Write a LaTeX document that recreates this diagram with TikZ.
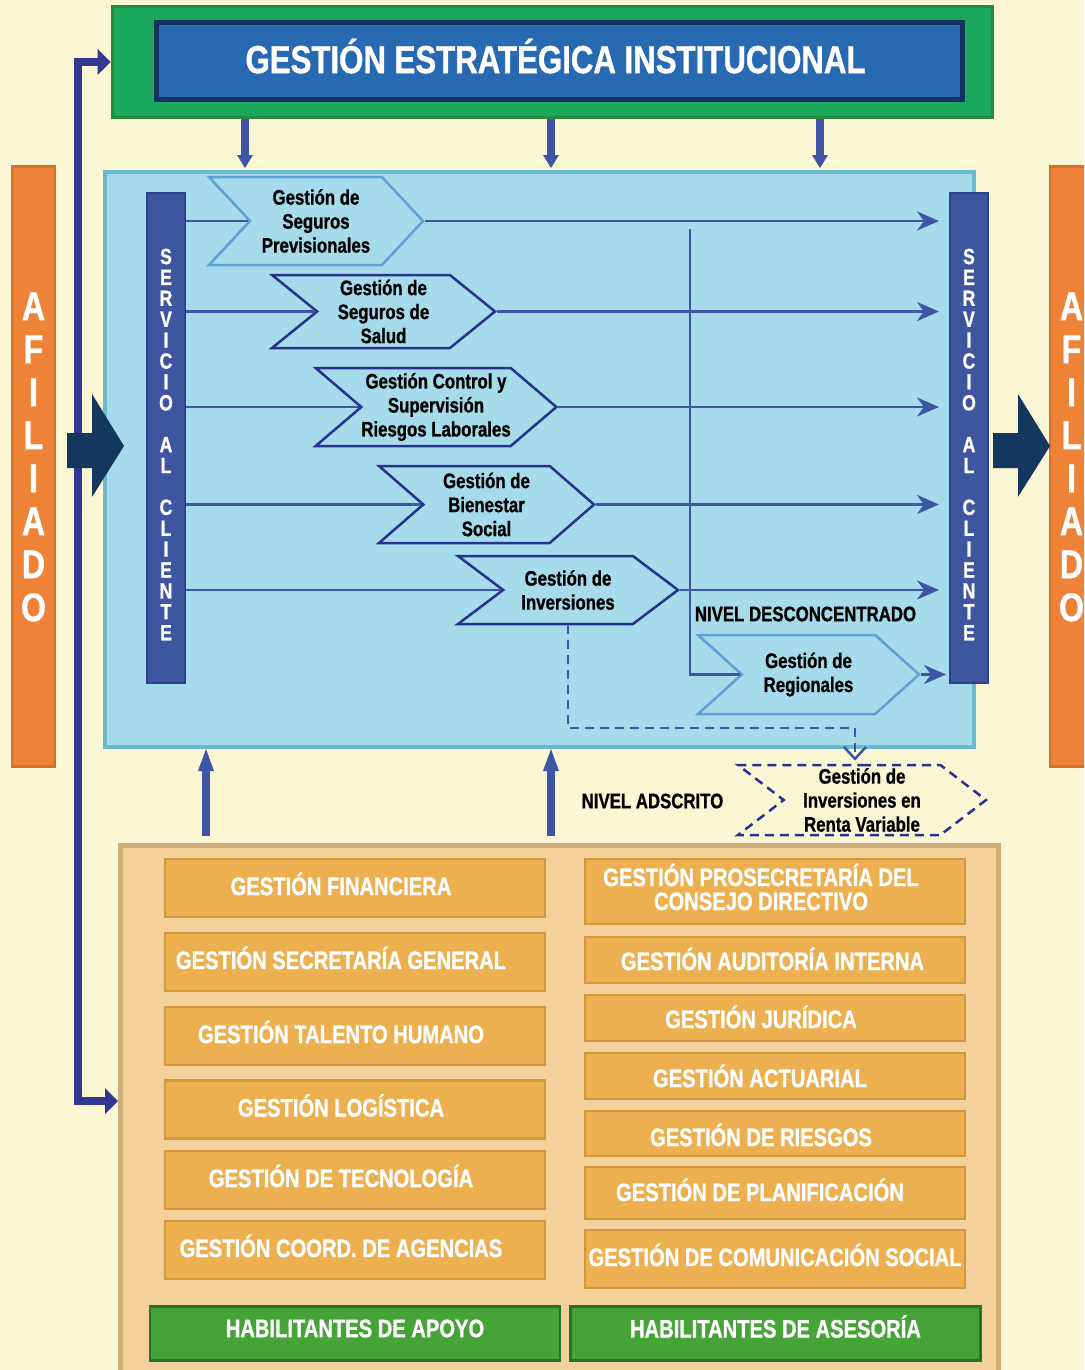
\documentclass[tikz,border=0pt]{standalone}
\usepackage{fontspec}
\setmainfont{Liberation Sans}[FakeStretch=0.8, BoldFeatures={FakeBold=1}]
\usetikzlibrary{arrows.meta, positioning, calc, shapes.symbols}
\definecolor{cream}{RGB}{251,247,212}
\definecolor{stratgreen}{RGB}{26,168,95}
\definecolor{stratedge}{RGB}{40,140,55}
\definecolor{stratblue}{RGB}{40,106,178}
\definecolor{stratnavy}{RGB}{20,50,95}
\definecolor{afilorange}{RGB}{238,131,55}
\definecolor{afiledge}{RGB}{214,112,45}
\definecolor{panelblue}{RGB}{165,219,235}
\definecolor{paneledge}{RGB}{108,185,206}
\definecolor{svcblue}{RGB}{62,85,162}
\definecolor{svcedge}{RGB}{45,65,140}
\definecolor{flowblue}{RGB}{62,85,165}
\definecolor{chevlight}{RGB}{95,160,215}
\definecolor{chevdark}{RGB}{40,50,140}
\definecolor{bignavy}{RGB}{20,55,95}
\definecolor{fbblue}{RGB}{50,55,145}
\definecolor{supbeige}{RGB}{244,208,155}
\definecolor{supedge}{RGB}{208,172,122}
\definecolor{mgorange}{RGB}{236,176,80}
\definecolor{mgedge}{RGB}{212,150,65}
\definecolor{habgreen}{RGB}{70,163,55}
\definecolor{habedge}{RGB}{35,115,45}

\begin{document}
\begin{tikzpicture}[
        x=0.5pt, y=-0.5pt,
        flow/.style={draw=flowblue, line width=1.25pt},
        flowarrow/.style={flow, -{Stealth[length=11pt, width=9.5pt, inset=3.5pt]}, shorten >=5pt},
        proc/.style={signal, signal from=west, signal to=east, draw=chevdark, fill=panelblue, line width=1.25pt, inner sep=0pt, align=center, font=\fontsize{10.5}{12}\selectfont\bfseries},
        proclight/.style={proc, draw=chevlight},
        svcbar/.style={draw=svcedge, fill=svcblue, line width=1pt, minimum width=19pt, minimum height=245pt},
        svctext/.style={text=white, align=center, font=\fontsize{11}{10.45}\selectfont\bfseries},
        afilbar/.style={draw=afiledge, fill=afilorange, line width=1.25pt, minimum width=21.5pt, minimum height=300pt},
        afiltext/.style={text=white, align=center, font=\fontsize{20}{21.5}\selectfont\bfseries},
        mgbox/.style={draw=mgedge, fill=mgorange, line width=1.25pt, minimum width=190pt},
        mgtext/.style={text=white, align=center, font=\fontsize{12.6}{12}\selectfont\bfseries},
        habbox/.style={draw=habedge, fill=habgreen, line width=1.25pt, minimum width=205pt, minimum height=27pt},
        downarrow/.style={draw=flowblue, line width=4pt, -{Triangle[length=6.5pt, width=8pt, line width=0pt]}},
        uparrow/.style={draw=flowblue, line width=4pt, -{Triangle[length=11pt, width=8pt, line width=0pt]}},
        fbline/.style={draw=fbblue, line width=4pt, {Triangle[length=6.5pt, width=13pt, line width=0pt]}-{Triangle[length=6.5pt, width=13pt, line width=0pt]}},
        nivel/.style={font=\fontsize{10.5}{12}\selectfont\bfseries, text=black}
    ]
        \fill[cream] (0,0) rectangle (1084,1370);
        \useasboundingbox (0,0) rectangle (1084,1370);
        \clip (0,0) rectangle (1084,1370);

        % Estrategica
        \node[draw=stratedge, fill=stratgreen, line width=1.5pt, minimum width=440pt, minimum height=55.5pt] (strat) at (552,62) {};
        \node[draw=stratnavy, fill=stratblue, line width=2.5pt, minimum width=403pt, minimum height=38.5pt] (stratbar) at (559.5,61) {};
        \node[text=white, font=\fontsize{19.5}{22}\selectfont\bfseries] (stratname) at ([xshift=-2pt, yshift=2.5pt]stratbar.center) {GESTIÓN ESTRATÉGICA INSTITUCIONAL};

        % Panel de procesos
        \node[draw=paneledge, fill=panelblue, line width=2pt, minimum width=434.5pt, minimum height=287.5pt] (panel) at (539.5,459.5) {};

        % Afiliado
        \node[afilbar, label={[afiltext, yshift=4.75pt]center:{A\\F\\I\\L\\I\\A\\D\\O}}] (afill) at (33.5,466.5) {};
        \node[afilbar, label={[afiltext, yshift=4.75pt]center:{A\\F\\I\\L\\I\\A\\D\\O}}] (afilr) at (1071.5,466.5) {};

        % Servicio al cliente
        \node[svcbar, label={[svctext, yshift=-3.5pt]center:{S\\E\\R\\V\\I\\C\\I\\O\\[10.45pt]A\\L\\[10.45pt]C\\L\\I\\E\\N\\T\\E}}] (scl) at (166,437.5) {};
        \node[svcbar, label={[svctext, yshift=-3.5pt]center:{S\\E\\R\\V\\I\\C\\I\\O\\[10.45pt]A\\L\\[10.45pt]C\\L\\I\\E\\N\\T\\E}}] (scr) at (969,437.5) {};

        % Habilitantes
        \node[draw=supedge, fill=supbeige, line width=2.5pt, minimum width=439pt, minimum height=266pt] (support) at (559.5,1111.5) {};

        \node[mgbox, minimum height=29pt, label={[mgtext, xshift=-7pt, yshift=2pt]center:GESTIÓN FINANCIERA}] (fin) at (355,888) {};
        \node[mgbox, minimum height=29pt, label={[mgtext, xshift=-7pt, yshift=2pt]center:GESTIÓN SECRETARÍA GENERAL}] (secg) at (355,962) {};
        \node[mgbox, minimum height=29pt, label={[mgtext, xshift=-7pt, yshift=2pt]center:GESTIÓN TALENTO HUMANO}] (thum) at (355,1036) {};
        \node[mgbox, minimum height=29pt, label={[mgtext, xshift=-7pt, yshift=2pt]center:GESTIÓN LOGÍSTICA}] (logi) at (355,1109.5) {};
        \node[mgbox, minimum height=29pt, label={[mgtext, xshift=-7pt, yshift=2pt]center:GESTIÓN DE TECNOLOGÍA}] (tecn) at (355,1180) {};
        \node[mgbox, minimum height=29pt, label={[mgtext, xshift=-7pt, yshift=2pt]center:GESTIÓN COORD. DE AGENCIAS}] (agen) at (355,1250) {};

        \node[mgbox, minimum height=32.5pt, label={[mgtext, xshift=-7pt, yshift=2.25pt]center:{GESTIÓN PROSECRETARÍA DEL\\CONSEJO DIRECTIVO}}] (prose) at (775,891.5) {};
        \node[mgbox, minimum height=23pt, label={[mgtext, xshift=-1.25pt, yshift=0.5pt]center:GESTIÓN AUDITORÍA INTERNA}] (audi) at (775,960) {};
        \node[mgbox, minimum height=23pt, label={[mgtext, xshift=-7pt, yshift=0.5pt]center:GESTIÓN JURÍDICA}] (juri) at (775,1018) {};
        \node[mgbox, minimum height=23pt, label={[mgtext, xshift=-7.5pt]center:GESTIÓN ACTUARIAL}] (actu) at (775,1076) {};
        \node[mgbox, minimum height=22.5pt, label={[mgtext, xshift=-7pt, yshift=-0.75pt]center:GESTIÓN DE RIESGOS}] (ries) at (775,1133.5) {};
        \node[mgbox, minimum height=26pt, label={[mgtext, xshift=-7.5pt, yshift=1.5pt]center:GESTIÓN DE PLANIFICACIÓN}] (plan) at (775,1193) {};
        \node[mgbox, minimum height=29pt, label={[mgtext, yshift=2pt]center:GESTIÓN DE COMUNICACIÓN SOCIAL}] (comu) at (775,1259) {};

        \node[habbox, label={[mgtext, yshift=2.5pt]center:HABILITANTES DE APOYO}] (apoyo) at (355,1333.5) {};
        \node[habbox, label={[mgtext, yshift=3.5pt]center:HABILITANTES DE ASESORÍA}] (aseso) at (775.5,1333.5) {};

        % Procesos
        \node[proclight, minimum width=107pt, minimum height=44pt, signal pointer angle=94] (prev) at (316,221) {Gestión de\\Seguros\\Previsionales};
        \node[proc, minimum width=111.5pt, minimum height=36.5pt, signal pointer angle=78] (salud) at (383.5,311.5) {Gestión de\\Seguros de\\Salud};
        \node[proc, minimum width=116pt, minimum height=39pt, signal pointer angle=81] (labor) at (436,407) {Gestión Control y\\Supervisión\\Riesgos Laborales};
        \node[proc, minimum width=107.5pt, minimum height=38.5pt, signal pointer angle=82] (bien) at (486.5,504.5) {Gestión de\\Bienestar\\Social};
        \node[proc, minimum width=110pt, minimum height=34pt, signal pointer angle=74] (inv) at (568,590) {Gestión de\\Inversiones};
        \node[proclight, minimum width=110.5pt, minimum height=39.5pt, signal pointer angle=84] (reg) at (808.5,674.5) {Gestión de\\Regionales};
        \node[proc, fill=none, dashed, dash pattern=on 4.5pt off 3pt, minimum width=124pt, minimum height=35pt, signal pointer angle=75] (renta) at (862,800) {Gestión de\\Inversiones en\\Renta Variable};

        \node[nivel] (desc) at (805.5,614) {NIVEL DESCONCENTRADO};
        \node[nivel] (adsc) at (652.5,801) {NIVEL ADSCRITO};

        % Flujos
        \draw[flow] (scl.east |- prev.west) -- (prev.west);
        \draw[flow] (scl.east |- salud.west) -- (salud.west);
        \draw[flow] (scl.east |- labor.west) -- (labor.west);
        \draw[flow] (scl.east |- bien.west) -- (bien.west);
        \draw[flow] (scl.east |- inv.west) -- (inv.west);
        \draw[flowarrow] (prev.east) -- (prev.east -| scr.west);
        \draw[flowarrow] (salud.east) -- (salud.east -| scr.west);
        \draw[flowarrow] (labor.east) -- (labor.east -| scr.west);
        \draw[flowarrow] (bien.east) -- (bien.east -| scr.west);
        \draw[flowarrow] (inv.east) -- (inv.east -| scr.west);
        \coordinate (branch) at (690,229);
        \draw[flow] (branch) |- (reg.west);
        \draw[flowarrow, shorten >=1.5pt] (reg.east) -- (reg.east -| scr.west);
        \coordinate (dbend) at (855,728);
        \draw[flow, dashed, dash pattern=on 4.5pt off 3pt, -{Straight Barb[length=6pt, width=11pt]}, shorten >=1.5pt] (inv.south) |- (dbend) -- (dbend |- renta.north);

        % Flechas
        \draw[downarrow, shorten >=1pt] (strat.south -| 245,0) -- (panel.north -| 245,0);
        \draw[downarrow, shorten >=1pt] (strat.south -| 551,0) -- (panel.north -| 551,0);
        \draw[downarrow, shorten >=1pt] (strat.south -| 820,0) -- (panel.north -| 820,0);
        \draw[uparrow, shorten <=3.5pt] (support.north -| 206,0) -- (panel.south -| 206,0);
        \draw[uparrow, shorten <=3.5pt] (support.north -| 551,0) -- (panel.south -| 551,0);
        \coordinate (fbturn) at (78,1101);
        \draw[fbline] (strat.west) -| (fbturn) -- (fbturn -| support.west);

        \fill[bignavy] (67,433) -- (92,433) -- (92,394) -- (124,446) -- (92,497) -- (92,468) -- (67,468) -- cycle;
        \fill[bignavy] (993,433) -- (1018,433) -- (1018,394) -- (1050,446) -- (1018,497) -- (1018,468) -- (993,468) -- cycle;
    \end{tikzpicture}
\end{document}
